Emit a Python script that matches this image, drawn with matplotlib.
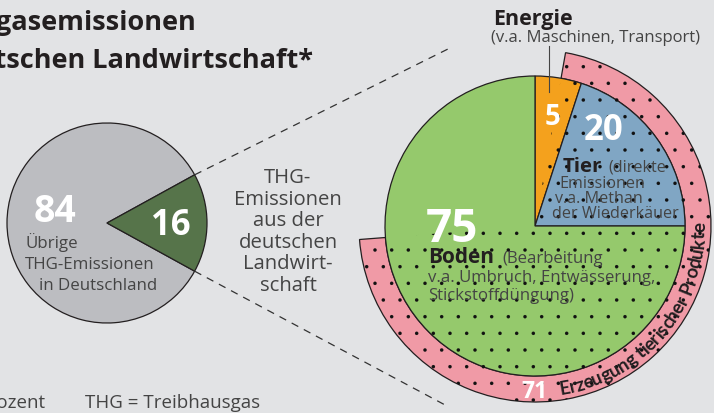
import numpy as np
import matplotlib.pyplot as plt
from matplotlib.font_manager import FontProperties

# data (Prozent)
germany_values = [84, 16]          # übrige THG-Emissionen, Landwirtschaft
farm_labels = ["Energie", "Tier", "Boden"]
farm_values = [5, 20, 75]
animal_share = 71                  # Erzeugung tierischer Produkte

W, H = 714, 414
BG = "#e2e3e5"
GRAY = "#bcbdc1"
DKGREEN = "#56744a"
ORANGE = "#f4a11d"
BLUE = "#80a6c4"
GREEN = "#95c96c"
PINK = "#f09aa6"
DARK = "#231f20"
TXT = "#444444"

plt.rcParams['font.family'] = ['Open Sans', 'DejaVu Sans']
plt.rcParams['hatch.linewidth'] = 0.1

fig = plt.figure(figsize=(W / 100, H / 100), dpi=100)
fig.patch.set_facecolor(BG)
ax = fig.add_axes([0, 0, 1, 1])


def Y(y):
    # picture coords (y down) -> axes coords
    return H - y


def label(x, y, s, size, weight="normal", color=TXT, ha="left"):
    ax.text(x, Y(y), s, fontsize=size, fontweight=weight, color=color,
            ha=ha, va="baseline")


edge = dict(edgecolor=DARK, linewidth=0.9)

# small pie: Deutschland gesamt
c1 = (107, Y(224))
r1 = 100
half = germany_values[1] / sum(germany_values) * 180
ax.pie(germany_values, colors=[GRAY, DKGREEN], startangle=half,
       center=c1, radius=r1, wedgeprops=edge)

# big pie: Landwirtschaft, ring for tierische Produkte
c2 = (535, Y(227))
r2 = 150
r_ring = 176
ring_values = [animal_share, 100 - animal_share]
ring_start = 80
ring, _ = ax.pie(ring_values, colors=[PINK, "none"], startangle=ring_start,
                 counterclock=False, center=c2, radius=r_ring,
                 wedgeprops=dict(width=r_ring - r2, **edge))
ring[1].set_visible(False)

ax.pie(farm_values, colors=[ORANGE, BLUE, GREEN], startangle=90,
       counterclock=False, center=c2, radius=r2, wedgeprops=edge)

dots, _ = ax.pie(ring_values, startangle=ring_start, counterclock=False,
                 center=c2, radius=r_ring,
                 wedgeprops=dict(fill=False, linewidth=0, edgecolor="#111111"))
dots[0].set_hatch(".")
dots[1].set_visible(False)

ax.set_xlim(0, W)
ax.set_ylim(0, H)
ax.set_aspect("equal")
ax.axis("off")

# dashed connectors
a = np.radians(half)
px0 = c1[0] + r1 * np.cos(a)
ax.plot([px0, 450], [c1[1] + r1 * np.sin(a), Y(49)], color="#333333",
        lw=0.9, ls=(0, (6, 5)))
ax.plot([px0, 447], [c1[1] - r1 * np.sin(a), Y(407)], color="#333333",
        lw=0.9, ls=(0, (6, 5)))

# title (cut off on the left like the original)
label(196, 30, "Treibhausgasemissionen", 19.5, "bold", DARK, ha="right")
label(313, 68, "der deutschen Landwirtschaft*", 19.5, "bold", DARK, ha="right")

# small pie labels
label(55, 222, str(germany_values[0]), 27, "bold", "white", ha="center")
label(171, 235, str(germany_values[1]), 25, "bold", "white", ha="center")
label(25, 248, "Übrige", 12.2)
label(25, 269, "THG-Emissionen", 12.2)
label(39, 290, "in Deutschland", 12.2)

mid_lines = ["THG-", "Emissionen", "aus der", "deutschen", "Landwirt-", "schaft"]
for i, s in enumerate(mid_lines):
    label(288, 183 + i * 21.6, s, 14.6, ha="center")

# Energie
label(493, 25, farm_labels[0], 15.5, "bold", DARK)
label(491, 42, "(v.a. Maschinen, Transport)", 12)
ax.plot([549, 549], [Y(47), Y(93)], color="#444444", lw=0.8)

# values inside big pie
label(553, 125, str(farm_values[0]), 20, "bold", "white", ha="center")
label(604, 140, str(farm_values[1]), 25, "bold", "white", ha="center")
label(452, 242, str(farm_values[2]), 33, "bold", "white", ha="center")

# Tier
label(563, 172, farm_labels[1], 14.7, "bold", DARK)
label(608, 172, "(direkte", 11.6)
label(559, 188, "Emissionen", 11.6)
label(555, 203, "v.a. Methan", 11.6)
label(552, 218, "der Wiederkäuer", 11.6)

# Boden
label(428, 263, farm_labels[2], 15, "bold", DARK)
label(502, 263, "(Bearbeitung", 12.1)
label(428, 282, "v.a. Umbruch, Entwässerung,", 12.1)
label(428, 300, "Stickstoffdüngung)", 12.1)

# ring label
label(535, 398, str(animal_share), 16.5, "bold", "white", ha="center")

# curved text along the ring, measured with the real renderer
ring_text = "Erzeugung tierischer Produkte"
r_base = 170
t_start, t_end = -81.4, 1.5
fp = FontProperties(family="Lato", weight="bold", size=13.5)
renderer = fig.canvas.get_renderer()


def width_px(s):
    t = ax.text(0, 0, s, fontproperties=fp)
    w = t.get_window_extent(renderer).width
    t.remove()
    return w


span = np.radians(t_end - t_start) * r_base
track = span / width_px(ring_text)
for i, ch in enumerate(ring_text):
    if ch == " ":
        continue
    centre = (width_px(ring_text[:i + 1]) - width_px(ch) / 2) * track
    th = t_start + np.degrees(centre / r_base)
    x = c2[0] + r_base * np.cos(np.radians(th))
    y = c2[1] + r_base * np.sin(np.radians(th))
    ax.text(x, y, ch, fontproperties=fp, color=DARK, rotation=th + 90,
            rotation_mode="anchor", ha="center", va="baseline")

# footer
label(45, 408, "Angaben in Prozent", 13.5, ha="right")
label(85, 408, "THG = Treibhausgas", 13.5)

fig.savefig("out.png", dpi=100, facecolor=BG)
